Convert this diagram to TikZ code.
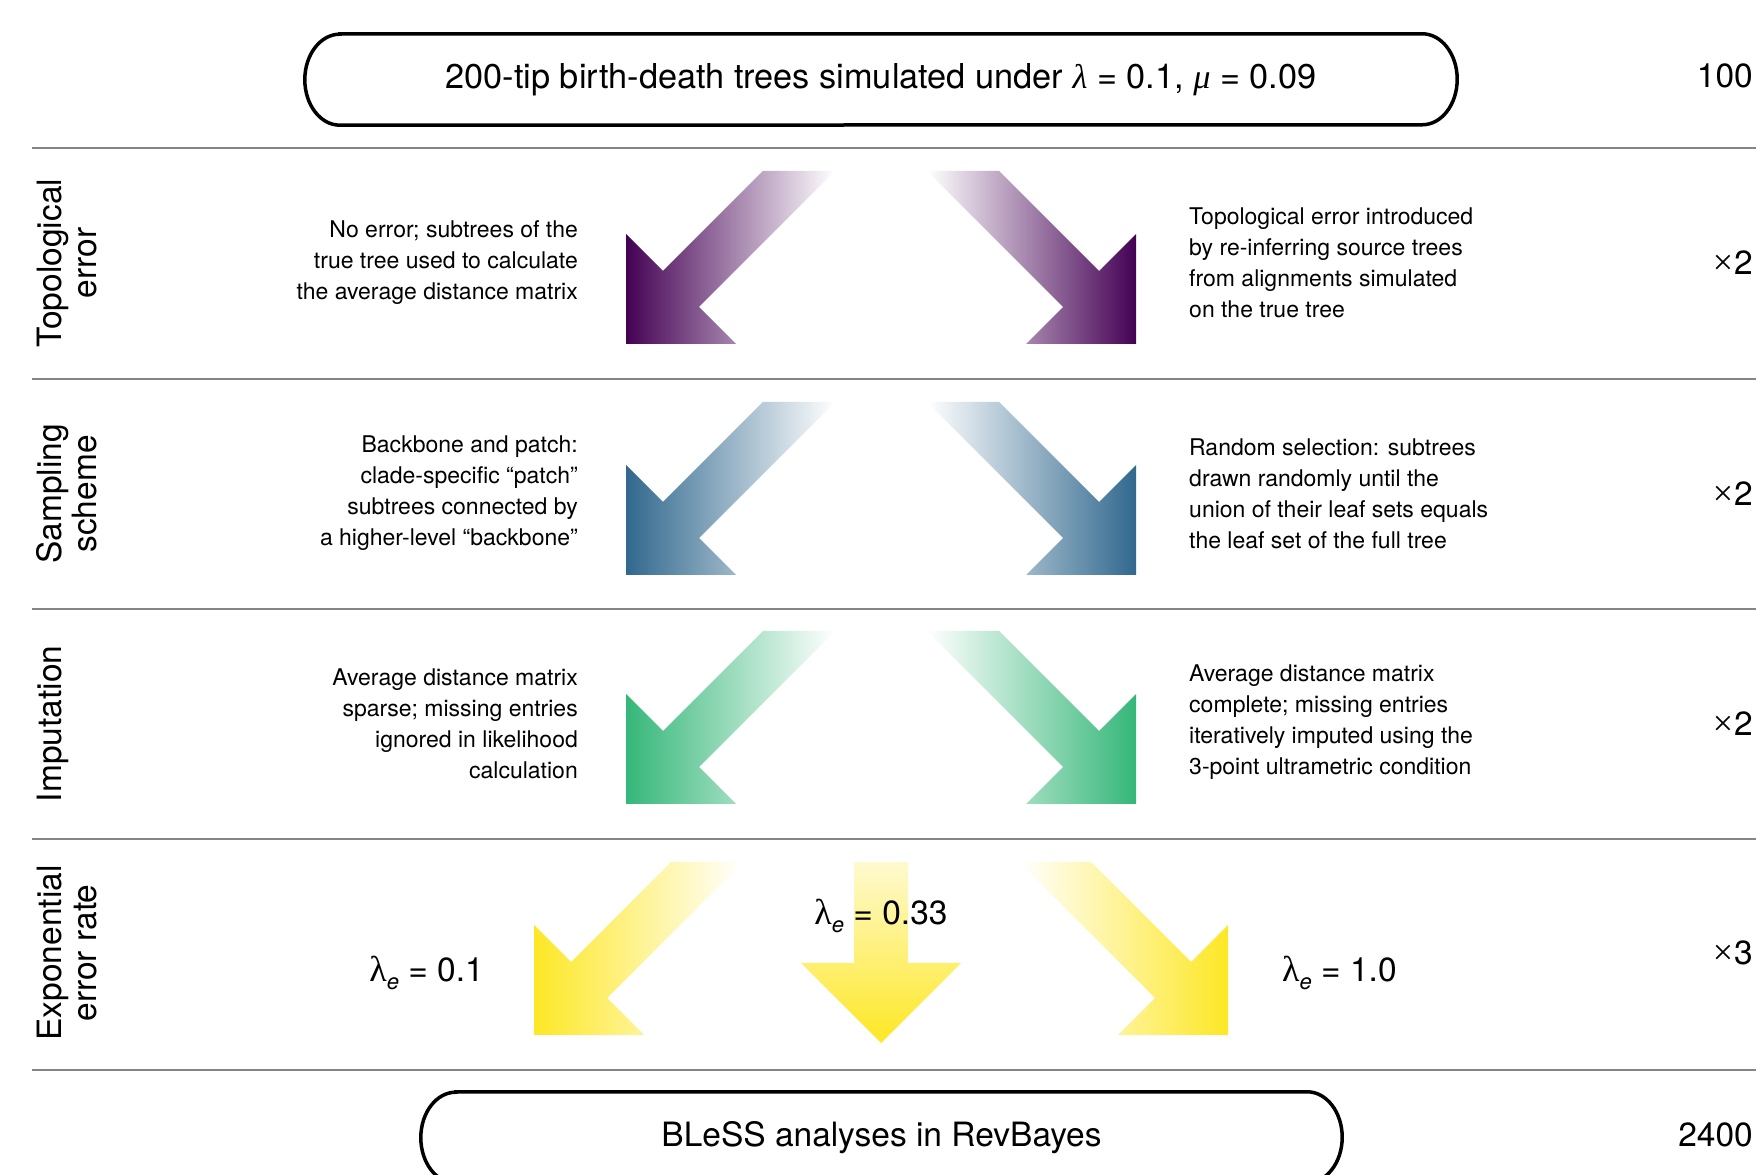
\documentclass[tikz,border=0pt]{standalone}
\usepackage{fontspec}
\setmainfont{TeX Gyre Heros}
\newfontfamily\grk{Liberation Serif}
\definecolor{vpurple}{HTML}{440154}
\definecolor{vblue}{HTML}{31688E}
\definecolor{vgreen}{HTML}{35B779}
\definecolor{vyellow}{HTML}{FDE725}
\newcommand{\ArrowDL}[3]{\shade[left color=#3, right color=white] (#1,#2) -- ++(0,110) -- ++(37,-37) -- ++(100,100) -- ++(72,0) -- ++(-136,-136) -- ++(37,-37) -- cycle;}
\newcommand{\ArrowDR}[3]{\shade[left color=white, right color=#3] (#1,#2) -- ++(0,110) -- ++(-37,-37) -- ++(-100,100) -- ++(-72,0) -- ++(136,-136) -- ++(-37,-37) -- cycle;}
\newcommand{\lame}{{\grk\fontsize{36}{36}\selectfont λ}\raisebox{-0.22em}{\fontsize{22}{22}\selectfont\itshape e}}
\newcommand{\tms}{{\grk\fontsize{36}{36}\selectfont ×}\kern1pt}
\newcommand{\ovalbox}[1]{\draw[boxline] ([xshift=35pt]#1.north west) -- ([xshift=-35pt]#1.north east) arc[start angle=90, end angle=-90, x radius=35pt, y radius=45.5pt] -- ([xshift=35pt]#1.south west) arc[start angle=270, end angle=90, x radius=35pt, y radius=45.5pt] -- cycle;}
\begin{document}
\begin{tikzpicture}[x=1pt,y=1pt,
  big/.style={font=\fontsize{33.5}{35}\selectfont, inner sep=0pt},
  desc/.style={font=\fontsize{23}{31}\selectfont, inner sep=0pt},
  rowlab/.style={big, rotate=90, anchor=north, align=center},
  rule/.style={draw=black!48, line width=2pt},
  boxline/.style={draw=black, line width=3.5pt}]
\path[use as bounding box, clip] (0,0) rectangle (1756,1175);
\fill[white] (0,0) rectangle (1756,1175);

% separators
\draw[rule] (32,1027) -- (1756,1027);
\draw[rule] (32,796) -- (1756,796);
\draw[rule] (32,566) -- (1756,566);
\draw[rule] (32,336) -- (1756,336);
\draw[rule] (32,105) -- (1756,105);

% top and bottom boxes
\node[big, font=\fontsize{34.3}{36}\selectfont, minimum width=1152pt, minimum height=91pt] (sim) at (881,1095.5)
  {200-tip birth-death trees simulated under {\grk\itshape λ} = 0.1, {\grk\itshape μ} = 0.09};
\ovalbox{sim}
\node[big, minimum width=921pt, minimum height=91pt] (bless) at (881.5,37.5) {BLeSS analyses in RevBayes};
\ovalbox{bless}

% right column counts
\node[big, anchor=east] (n0) at (1753,1099) {100};
\node[big, anchor=east] (n1) at (1753,912) {\tms2};
\node[big, anchor=east] (n2) at (1753,681) {\tms2};
\node[big, anchor=east] (n3) at (1753,451) {\tms2};
\node[big, anchor=east] (n4) at (1753,222) {\tms3};
\node[big, anchor=east] (n5) at (1753,40) {2400};

% row labels
\node[rowlab] (lab1) at (36.5,912) {Topological\\error};
\node[rowlab] (lab2) at (36.5,681) {Sampling\\scheme};
\node[rowlab] (lab3) at (36.5,451) {Imputation};
\node[rowlab] (lab4) at (36.5,222) {Exponential\\error rate};

% arrows
\ArrowDL{626}{831}{vpurple}
\ArrowDR{1136}{831}{vpurple}
\ArrowDL{626}{600}{vblue}
\ArrowDR{1136}{600}{vblue}
\ArrowDL{626}{371}{vgreen}
\ArrowDR{1136}{371}{vgreen}
\ArrowDL{534}{140}{vyellow}
\ArrowDR{1228}{140}{vyellow}
\shade[top color=vyellow!22, bottom color=vyellow] (881,132) -- (961,212) -- (908,212) -- (908,313) -- (854,313) -- (854,212) -- (801,212) -- cycle;

% descriptions
\node[desc, anchor=east, align=right] (d1l) at (578,912) {No error; subtrees of the\\true tree used to calculate\\the average distance matrix};
\node[desc, anchor=west, align=left] (d1r) at (1189,912) {Topological error introduced\\by re-inferring source trees\\from alignments simulated\\on the true tree};
\node[desc, anchor=east, align=right] (d2l) at (578,682) {Backbone and patch:\\clade-specific “patch”\\subtrees connected by\\a higher-level “backbone”};
\node[desc, anchor=west, align=left] (d2r) at (1189,681) {Random selection: subtrees\\drawn randomly until the\\union of their leaf sets equals\\the leaf set of the full tree};
\node[desc, anchor=east, align=right] (d3l) at (578,451) {Average distance matrix\\sparse; missing entries\\ignored in likelihood\\calculation};
\node[desc, anchor=west, align=left] (d3r) at (1189,453) {Average distance matrix\\complete; missing entries\\iteratively imputed using the\\3-point ultrametric condition};

% error rate labels
\node[big, anchor=base east] (e1) at (484,193) {\lame{} = 0.1};
\node[big, anchor=base] (e2) at (881,250) {\lame{} = 0.33};
\node[big, anchor=base west] (e3) at (1282,193) {\lame{} = 1.0};
\end{tikzpicture}
\end{document}
